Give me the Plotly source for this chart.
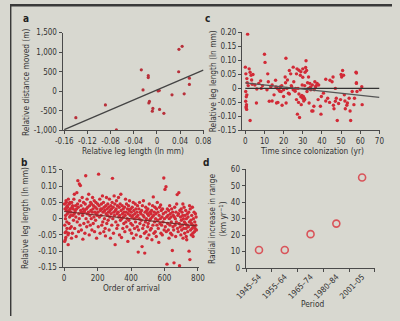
import plotly.graph_objects as go

FONT = "Liberation Sans Narrow, DejaVu Sans Condensed, Roboto Condensed, Liberation Sans, Arial, sans-serif"
BG = "#d8d8d0"
AX = "#4a4a4a"
TXT = "#333333"
RED = "#d22a36"

# ---------------- panel a ----------------
leg_a = [-0.140, -0.089, -0.070, -0.027, -0.024, -0.015, -0.015, -0.014, -0.013, -0.007, -0.008,
         0.002, 0.0045, 0.012, 0.026, 0.038, 0.0435, 0.0375, 0.047, 0.056, 0.056, 0.004]
dist_a = [-675, -350, -990, 550, 35, 400, 350, -300, -260, -440, -510,
          10, -465, -565, -90, 1075, 1150, 500, -65, 335, 175, 20]
trend_a_x = [-0.16, 0.08]
trend_a_y = [-981, 543]
a_xticks = [-0.16, -0.12, -0.08, -0.04, 0, 0.04, 0.08]
a_xlabels = ["-0.16", "-0.12", "-0.08", "-0.04", "0", "0.04", "0.08"]
a_yticks = [-1000, -500, 0, 500, 1000, 1500]
a_ylabels = ["-1,000", "-500", "0", "500", "1,000", "1,500"]

# ---------------- panel c ----------------
time_c = [1.2, 0, 0.3, 0.8, 0.2, 0.8, 0.2, 0.6, 0.4, 0.7, 2.5, 2, 2.5, 3, 3.3, 3.6, 5, 5.8, 7, 8, 8.3,
          10, 10.3, 11.7, 12, 11.3, 12.5, 13.3, 14, 15, 15.8, 16.3, 16.7, 17.5, 18.3, 18.7, 19.2, 20,
          20.8, 21.2, 21.3, 21.7, 22.5, 23, 23.7, 24.2, 25, 25.3, 25.8, 26.3, 26.7, 26.7, 27, 27.2,
          27.8, 28.3, 28.7, 29.2, 29.7, 30, 30.3, 30.8, 31.2, 31.7, 32, 32.2, 33, 33.3, 33.7, 34.2,
          34.7, 35, 35.3, 35.8, 36.3, 36.7, 37.5, 38.3, 39.2, 39.5, 39.7, 40.8, 42, 43, 44.2, 45.3,
          45.8, 46.3, 47, 47.5, 48, 48.7, 49.7, 50.3, 50.8, 51.3, 51.7, 52.2, 53.3, 54.2, 54.7, 55,
          55.8, 56.7, 57.8, 58, 58.3, 60.8, 61,
          26, 28, 29, 30, 31, 30.5, 29.5, 27.5, 31, 33, 25, 24, 32.5, 34, 36, 37, 28, 29, 30, 31.5,
          17, 19, 21, 22, 9, 6, 4, 1, 1.5, 0.5, 0.5, 14, 16, 18, 20, 23, 44, 47, 50, 52, 58, 58, 60,
          38, 42, 46, 53, 57]
leg_c = [0.194, 0.076, 0.052, 0.035, -0.011, -0.023, -0.046, -0.058, -0.069, -0.075, -0.115, 0.07,
         0.058, 0.047, 0.03, 0.015, 0.012, -0.052, 0.018, 0.027, 0, 0.122, 0.093, 0.052, 0.024,
         -0.005, -0.046, 0.006, 0.012, -0.023, 0.029, -0.052, 0, -0.005, 0.006, -0.011, -0.06,
         -0.029, 0.041, 0.108, -0.052, 0, -0.017, 0.064, 0.052, 0.006, 0.076, 0.024, -0.005, 0,
         0.052, -0.04, 0.07, -0.092, -0.05, -0.104, 0.047, -0.058, 0.012, 0.07, -0.029, -0.035,
         0.058, 0.099, 0.064, -0.011, 0.041, -0.052, 0.018, -0.005, -0.081, 0.012, -0.081, -0.064,
         0.024, 0.006, 0.018, 0.012, -0.064, -0.092, -0.029, -0.017, 0.033, -0.035, 0.029, 0.024,
         0.041, -0.073, -0.046, -0.035, -0.115, -0.054, -0.04, 0.041, 0.064, 0.047, -0.023, -0.073,
         -0.052, -0.035, -0.081, -0.115, -0.011, -0.058, 0.058, 0.018, -0.011, 0.006, -0.058,
         -0.01, -0.02, -0.03, -0.035, -0.04, -0.045, -0.025, 0.0, 0.01, 0.0, -0.005, 0.01, 0.02,
         0.005, -0.005, 0.01, 0.065, 0.06, 0.04, 0.075,
         -0.05, 0.01, 0.02, 0.03, 0.01, -0.002, 0.05, 0.02, 0.01, -0.03, -0.065, -0.045, 0.005,
         -0.01, -0.005, -0.02, -0.05, 0.0, 0.05, -0.045, 0.055, 0.02, -0.005,
         -0.04, -0.045, -0.06, -0.06, -0.035]
zero_c_t = [0, 70]
zero_c_y = [0, 0]
trend_c_t = [0, 70]
trend_c_y = [0.02, -0.032]
c_xticks = [0, 10, 20, 30, 40, 50, 60, 70]
c_yticks = [-0.15, -0.10, -0.05, 0, 0.05, 0.10, 0.15, 0.20]
c_ylabels = ["-0.15", "-0.10", "-0.05", "0", "0.05", "0.10", "0.15", "0.20"]

# ---------------- panel b ----------------
order_b = [
    2, 4, 5, 7, 9, 11, 12, 14, 16, 18, 3, 8, 13, 17, 19, 10, 15, 6,
    21, 23, 25, 27, 29, 31, 33, 35, 37, 39, 24, 30, 26, 34,
    41, 43, 45, 47, 49, 52, 54, 56, 58, 60, 44, 50,
    61, 63, 66, 68, 70, 72, 74, 76, 78, 80, 65,
    82, 84, 86, 88, 91, 93, 95, 97, 99, 90,
    101, 103, 105, 108, 110, 112, 114, 116, 118, 120,
    122, 124, 126, 129, 131, 133, 135, 137, 139,
    141, 143, 145, 147, 150, 152, 154, 156, 158, 160,
    162, 164, 166, 168, 170, 172, 174, 176, 178, 180,
    182, 184, 186, 188, 190, 192, 194, 196, 198, 200,
    202, 204, 206, 209, 211, 213, 215, 217, 219,
    221, 223, 225, 227, 229, 231, 233, 235, 237, 239,
    241, 243, 245, 247, 249, 251, 253, 255, 257, 259,
    261, 263, 265, 267, 269, 271, 273, 275, 277, 279,
    281, 283, 285, 287, 289, 291, 293, 295, 297, 299,
    301, 303, 305, 307, 309, 311, 313, 315, 317, 319,
    321, 323, 325, 327, 329, 331, 333, 335, 337, 339,
    341, 343, 345, 347, 349, 351, 353, 355, 357, 359,
    361, 363, 365, 367, 369, 371, 373, 375, 377, 379,
    381, 383, 385, 387, 389, 391, 393, 395, 397, 399,
    401, 403, 405, 407, 409, 411, 413, 415, 417, 419,
    421, 423, 425, 427, 429, 431, 433, 435, 437, 439,
    441, 443, 445, 447, 449, 451, 453, 455, 457, 459,
    461, 463, 466, 468, 470, 472, 474, 476, 478, 480,
    482, 484, 486, 488, 490, 492, 494, 496, 498, 500,
    501, 503, 505, 507, 509, 511, 513, 515, 517, 519,
    521, 523, 525, 527, 529, 531, 533, 535, 537, 539,
    541, 543, 545, 547, 549, 551, 553, 555, 557, 559,
    561, 563, 566, 568, 571, 573, 575, 577, 579,
    581, 583, 585, 587, 589, 591, 593, 596, 598, 600,
    603, 605, 607, 609, 611, 613, 615, 617, 619,
    621, 623, 625, 627, 629, 631, 633, 635, 637, 639,
    641, 643, 645, 647, 649, 651, 653, 655, 657, 659,
    661, 663, 665, 667, 669, 671, 673, 676, 678, 680,
    682, 684, 686, 688, 690, 692, 694, 696, 698, 700,
    701, 703, 705, 707, 709, 711, 713, 715, 717, 719,
    721, 723, 725, 727, 729, 731, 733, 735, 737, 739,
    741, 743, 745, 747, 749, 752, 754, 756, 758, 760,
    761, 763, 765, 767, 769, 771, 773, 775, 777, 779,
    781, 783, 785, 787, 789, 791, 770, 750, 730, 710]
leg_b = [
    0.045, -0.02, 0.03, -0.065, 0.01, 0.055, -0.04, 0.025, -0.01, 0.04, -0.07, 0.0, 0.05, -0.03, 0.015, -0.058, 0.035, -0.043,
    0.035, -0.05, 0.06, 0.02, -0.015, 0.045, 0.005, -0.03, 0.03, 0.01, -0.08, 0.025, -0.045, 0.05,
    0.02, -0.025, 0.05, 0.035, -0.045, 0.01, 0.03, -0.005, 0.06, 0.015, -0.06, 0.04,
    0.075, -0.03, 0.025, 0.04, 0.005, -0.055, 0.03, 0.08, -0.01, 0.045, 0.02,
    0.117, 0.035, -0.04, 0.015, 0.107, 0.055, -0.02, 0.102, 0.025, 0.0,
    0.04, -0.035, 0.02, 0.065, 0.01, -0.063, 0.03, 0.05, -0.015, 0.02,
    0.025, -0.045, 0.045, 0.132, 0.0, 0.03, -0.025, 0.06, 0.015,
    0.035, -0.01, 0.02, 0.075, -0.05, 0.04, 0.01, -0.02, 0.05, 0.025,
    0.0, 0.045, -0.035, 0.02, 0.065, 0.03, -0.015, 0.04, 0.005, 0.055,
    -0.04, 0.02, 0.035, -0.005, 0.05, 0.015, -0.06, 0.03, 0.01, 0.045,
    0.02, -0.025, 0.137, 0.04, 0.005, 0.06, -0.045, 0.025, 0.03,
    0.01, 0.045, -0.02, 0.03, 0.07, -0.01, 0.02, 0.05, -0.04, 0.035,
    0.0, 0.025, -0.03, -0.053, 0.04, 0.015, 0.065, -0.015, 0.03, 0.01,
    0.045, -0.005, 0.02, 0.035, -0.035, 0.06, 0.005, 0.025, -0.06, 0.04,
    0.015, 0.03, -0.02, 0.05, 0.124, 0.0, 0.035, -0.045, 0.02, 0.07,
    0.01, 0.045, -0.08, 0.025, -0.01, 0.03, 0.055, -0.03, 0.015, 0.04,
    -0.02, 0.02, 0.065, 0.005, 0.035, -0.05, 0.01, 0.045, -0.005, 0.075,
    0.025, -0.058, 0.0, 0.04, 0.015, -0.03, 0.03, 0.005, -0.015, 0.02,
    0.035, -0.04, 0.01, 0.06, -0.01, 0.02, 0.045, -0.025, 0.0, 0.03,
    -0.07, 0.015, 0.04, -0.005, 0.025, 0.055, -0.035, 0.01, 0.03, -0.015,
    0.02, -0.045, 0.005, 0.035, -0.02, 0.01, 0.05, -0.06, 0.025, 0.0,
    -0.03, 0.015, 0.045, -0.01, 0.03, -0.05, 0.005, 0.02, -0.025, 0.04,
    0.01, -0.103, -0.035, 0.03, 0.0, 0.05, -0.015, 0.02, -0.055, 0.015,
    -0.005, 0.025, -0.086, 0.04, -0.03, 0.01, 0.055, -0.02, 0.005, -0.045,
    -0.106, 0.02, -0.01, 0.035, -0.04, 0.0, 0.025, -0.06, 0.015, -0.025,
    0.03, -0.015, 0.01, -0.05, 0.045, -0.005, 0.02, -0.035, 0.0, 0.015,
    -0.03, 0.025, -0.065, 0.005, 0.04, -0.02, 0.067, 0.01, -0.045, 0.02,
    -0.01, 0.035, -0.04, 0.0, 0.015, -0.055, 0.03, -0.02, 0.05, -0.005,
    0.02, -0.03, -0.073, 0.01, 0.035, -0.015, 0.0, 0.042, -0.045,
    0.025, -0.02, 0.005, -0.05, 0.03, -0.01, 0.015, 0.125, -0.035, 0.0,
    0.09, -0.025, 0.02, 0.098, -0.04, 0.005, -0.14, 0.03, -0.015,
    0.01, -0.035, 0.025, -0.06, 0.0, 0.04, -0.02, 0.015, -0.045, 0.005,
    -0.01, 0.03, -0.05, -0.098, 0.02, -0.025, 0.01, -0.035, -0.136, 0.005,
    0.035, -0.02, 0.0, -0.055, 0.02, -0.01, 0.045, 0.074, -0.03, 0.01,
    -0.04, 0.015, 0.08, -0.015, -0.145, 0.025, -0.025, 0.005, -0.05, 0.03,
    -0.005, -0.035, 0.02, -0.02, 0.01, -0.06, 0.0, -0.03, 0.035, -0.01,
    -0.045, 0.01, -0.015, 0.025, -0.03, 0.0, -0.065, -0.02, 0.015, -0.04,
    0.005, -0.025, 0.02, -0.1, -0.01, -0.126, 0.03, -0.035, -0.005, -0.05,
    -0.015, 0.01, -0.03, 0.035, -0.02, -0.055, 0.0, -0.025, 0.02, -0.04,
    -0.01, -0.03, 0.015, -0.02, 0.005, -0.035, -0.045, 0.04, -0.055, 0.045]
trend_b_x = [0, 790]
trend_b_y = [0.022, -0.022]
b_xticks = [0, 200, 400, 600, 800]
b_yticks = [-0.15, -0.10, -0.05, 0, 0.05, 0.10, 0.15]
b_ylabels = ["-0.15", "-0.10", "-0.05", "0", "0.05", "0.10", "0.15"]

# ---------------- panel d ----------------
periods = ["1945\u201354", "1955\u201364", "1965\u201374", "1980\u201384", "2001\u201305"]
radial_increase = [11, 11, 20.6, 27, 55]
d_yticks = [0, 10, 20, 30, 40, 50, 60]

W, H = 400, 321
TICK_SIZE = 8
TITLE_SIZE = 8.3


def px(x):
    return x / W


def py(y):
    return 1 - y / H


def axis(**kw):
    base = dict(showline=True, linecolor=AX, linewidth=1, ticks="outside", ticklen=3,
                tickwidth=1, tickcolor=AX, showgrid=False, zeroline=False, tickangle=0,
                tickfont=dict(size=TICK_SIZE, color=TXT, family=FONT), fixedrange=True)
    base.update(kw)
    return base


fig = go.Figure()

mk = dict(color=RED, size=3.4, line=dict(width=0))

# a
fig.add_trace(go.Scatter(x=leg_a, y=dist_a, mode="markers", marker=dict(color="#b8303a", size=3.2),
                         xaxis="x", yaxis="y", showlegend=False))
fig.add_trace(go.Scatter(x=trend_a_x, y=trend_a_y, mode="lines", line=dict(color="#444", width=1.3),
                         xaxis="x", yaxis="y", showlegend=False))
# c
fig.add_trace(go.Scatter(x=time_c, y=leg_c, mode="markers", marker=mk,
                         xaxis="x2", yaxis="y2", showlegend=False))
fig.add_trace(go.Scatter(x=zero_c_t, y=zero_c_y, mode="lines", line=dict(color="#333", width=1.3),
                         xaxis="x2", yaxis="y2", showlegend=False))
fig.add_trace(go.Scatter(x=trend_c_t, y=trend_c_y, mode="lines", line=dict(color="#555", width=1.2),
                         xaxis="x2", yaxis="y2", showlegend=False))
# b
fig.add_trace(go.Scatter(x=order_b, y=leg_b, mode="markers", marker=mk,
                         xaxis="x3", yaxis="y3", showlegend=False))
fig.add_trace(go.Scatter(x=trend_b_x, y=trend_b_y, mode="lines", line=dict(color="#7a2a2a", width=1.2),
                         xaxis="x3", yaxis="y3", showlegend=False))
# d
fig.add_trace(go.Scatter(x=periods, y=radial_increase, mode="markers",
                         marker=dict(symbol="circle-open", color="#d9545a", size=7, line=dict(width=1.6)),
                         xaxis="x4", yaxis="y4", showlegend=False, cliponaxis=False))

fig.update_layout(
    width=W, height=H, autosize=False,
    margin=dict(l=0, r=0, t=0, b=0),
    paper_bgcolor=BG, plot_bgcolor="rgba(0,0,0,0)",
    font=dict(family=FONT, size=TICK_SIZE, color=TXT),
    xaxis=axis(domain=[px(55), px(203)], range=[-0.163, 0.081], tickvals=a_xticks, ticktext=a_xlabels,
               anchor="y"),
    yaxis=axis(domain=[py(130), py(29.5)], range=[-1000, 1500], tickvals=a_yticks, ticktext=a_ylabels,
               anchor="x"),
    xaxis2=axis(domain=[px(243), px(387)], range=[-1.7, 70.1], tickvals=c_xticks, anchor="y2"),
    yaxis2=axis(domain=[py(130), py(29.3)], range=[-0.15, 0.2], tickvals=c_yticks, ticktext=c_ylabels,
                anchor="x2"),
    xaxis3=axis(domain=[px(55), px(198)], range=[-9.7, 807], tickvals=b_xticks, anchor="y3"),
    yaxis3=axis(domain=[py(271), py(170.7)], range=[-0.15, 0.15], tickvals=b_yticks, ticktext=b_ylabels,
                anchor="x3"),
    xaxis4=axis(domain=[px(246.7), px(382.2)], type="category", range=[-0.52, 4.5],
                tickson="boundaries", tickangle=-45, anchor="y4"),
    yaxis4=axis(domain=[py(271.7), py(170)], range=[0, 60], tickvals=d_yticks, anchor="x4"),
)

ann = []


def add_text(text, x, y, size=TITLE_SIZE, angle=0, bold=False, xanchor="center", yanchor="middle"):
    ann.append(dict(text=("<b>%s</b>" % text) if bold else text, x=px(x), y=py(y), xref="paper",
                    yref="paper", showarrow=False, textangle=angle, xanchor=xanchor, yanchor=yanchor,
                    font=dict(size=size, color="#222" if bold else TXT, family=FONT)))


add_text("a", 16.5, 15, size=10, bold=True)
add_text("c", 207, 15, size=10, bold=True)
add_text("b", 15, 163, size=10, bold=True)
add_text("d", 205, 163, size=10, bold=True)

add_text("Relative distance moved (m)", 16, 80, angle=-90)
add_text("Relative leg length (ln mm)", 129, 151)
add_text("Relative leg length (ln mm)", 212, 79, angle=-90)
add_text("Time since colonization (yr)", 316, 151)
add_text("Relative leg length (ln mm)", 16, 220, angle=-90)
add_text("Order of arrival", 127, 292)
add_text("Radial increase in range<br>(km yr<sup>\u22121</sup>)", 218, 221, angle=-90)
add_text("Period", 317, 309)

fig.update_layout(annotations=ann)

# dark top/left edge of the scanned figure
fig.add_shape(type="rect", xref="paper", yref="paper", x0=0, x1=1, y0=py(2.5), y1=1,
              fillcolor="#3a3a3a", line=dict(width=0), layer="below")
fig.add_shape(type="rect", xref="paper", yref="paper", x0=0, x1=px(1.5), y0=0, y1=1,
              fillcolor="#3a3a3a", line=dict(width=0), layer="below")

fig.write_html("out.html")
